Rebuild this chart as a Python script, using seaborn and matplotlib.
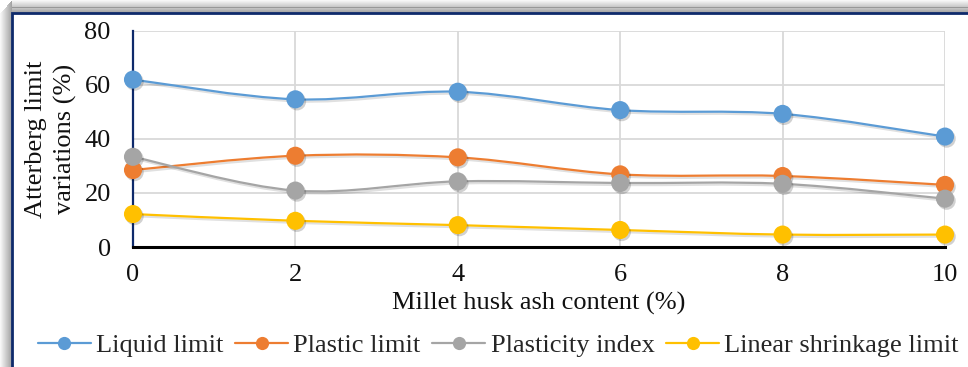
import numpy as np
import matplotlib
matplotlib.use("Agg")
import matplotlib.pyplot as plt
import seaborn as sns
import pandas as pd
from matplotlib.path import Path
from matplotlib.patches import PathPatch, Rectangle
from matplotlib.lines import Line2D
import matplotlib.patheffects as pe

# ---- data ----
ash_content = [0, 2, 4, 6, 8, 10]
liquid_limit = [62.0, 54.7, 57.5, 50.7, 49.3, 40.9]
plastic_limit = [28.5, 33.8, 33.2, 26.9, 26.3, 23.0]
plasticity_index = [33.4, 20.9, 24.3, 23.7, 23.4, 17.9]
linear_shrinkage = [12.2, 9.7, 8.1, 6.3, 4.6, 4.6]
series_names = ["Liquid limit", "Plastic limit", "Plasticity index", "Linear shrinkage limit"]
colors = ["#5B9BD5", "#ED7D31", "#A5A5A5", "#FFC000"]
x_ticks = [0, 2, 4, 6, 8, 10]
y_ticks = [0, 20, 40, 60, 80]

sns.set_theme(style="white")
plt.rcParams['font.family'] = ['Liberation Serif', 'DejaVu Serif']
FS = 19

W, H = 968, 367
fig = plt.figure(figsize=(W / 100, H / 100), dpi=100)
fig.patch.set_facecolor("white")

# shadow + border of the chart area
for i in range(12):
    a = 0.03 * (i + 1)
    fig.patches.append(Rectangle((i / W, 0), 1 / W, 1 - (13 - i * 13 / 12) / H,
                                 transform=fig.transFigure, color="black", alpha=a, lw=0, zorder=0))
    fig.patches.append(Rectangle((12 / W, 1 - (i * 13 / 12 + 1) / H), 1, 1.1 / H,
                                 transform=fig.transFigure, color="black", alpha=a, lw=0, zorder=0))
fig.patches.append(Rectangle((12 / W, -0.1), 1.2, 1 - 13 / H + 0.1, transform=fig.transFigure,
                             facecolor="white", edgecolor="#0E2A6B", lw=2.0, zorder=1))

ax = fig.add_axes([133 / W, 1 - 247 / H, (945 - 133) / W, (247 - 31) / H])
ax.set_facecolor("none")
ax.set_zorder(2)

df = pd.DataFrame({"x": ash_content * 4,
                   "y": liquid_limit + plastic_limit + plasticity_index + linear_shrinkage,
                   "s": sum([[n] * len(ash_content) for n in series_names], [])})


def smooth_path(xs, ys):
    pts = np.column_stack([xs, ys]).astype(float)
    verts = [pts[0]]
    codes = [Path.MOVETO]
    n = len(pts)
    for i in range(n - 1):
        p0 = pts[i - 1] if i > 0 else pts[i]
        p1 = pts[i]
        p2 = pts[i + 1]
        p3 = pts[i + 2] if i + 2 < n else pts[i + 1]
        c1 = p1 + (p2 - p0) / 6.0
        c2 = p2 - (p3 - p1) / 6.0
        verts += [c1, c2, p2]
        codes += [Path.CURVE4] * 3
    return Path(verts, codes)


for name, col in zip(series_names, colors):
    sub = df[df.s == name]
    patch = PathPatch(smooth_path(sub.x.values, sub.y.values), facecolor="none",
                      edgecolor=col, lw=1.6, zorder=3, clip_on=False)
    patch.set_path_effects([pe.SimpleLineShadow(offset=(1.2, -1.5), alpha=0.12, shadow_color="black"),
                            pe.Normal()])
    ax.add_patch(patch)

sns.scatterplot(data=df, x="x", y="y", hue="s", palette=colors, s=170,
                edgecolor="none", ax=ax, legend=False, zorder=4, clip_on=False)
for coll in ax.collections:
    coll.set_path_effects([pe.SimplePatchShadow(offset=(1.2, -1.5), shadow_rgbFace="black", alpha=0.18),
                           pe.Normal()])

ax.set_xlim(0, 10)
ax.set_ylim(0, 80)
ax.set_xticks(x_ticks)
ax.set_yticks(y_ticks)
ax.grid(True, color="#D9D9D9", lw=1.3)
ax.set_axisbelow(True)
for s in ["top", "right"]:
    ax.spines[s].set_visible(False)
ax.spines["left"].set_color("#0E2A6B")
ax.spines["left"].set_linewidth(1.6)
ax.spines["bottom"].set_color("black")
ax.spines["bottom"].set_linewidth(2.2)
ax.tick_params(axis="both", length=0, labelsize=FS, colors="#111111")
ax.tick_params(axis="y", pad=16)
ax.tick_params(axis="x", pad=12)

ax.set_xlabel("Millet husk ash content (%)", fontsize=FS, color="#111111", va="center")
ax.xaxis.set_label_coords(0.5, -(303 - 247) / (247 - 31))
ax.set_ylabel("Atterberg limit\nvariations (%)", fontsize=FS, color="#111111",
              linespacing=1.35, va="center")
ax.yaxis.set_label_coords(-(133 - 51) / (945 - 133), 0.5)

handles = [Line2D([0], [0], color=c, lw=1.6, marker="o", markersize=9.5, markeredgewidth=0)
           for c in colors]
fig.legend(handles, series_names, loc="center left", bbox_to_anchor=(38 / W, 1 - 345 / H),
           ncol=4, frameon=False, fontsize=FS, handlelength=2.0, handletextpad=0.2,
           columnspacing=0.45, borderaxespad=0, borderpad=0)

fig.savefig("out.png", dpi=100)
